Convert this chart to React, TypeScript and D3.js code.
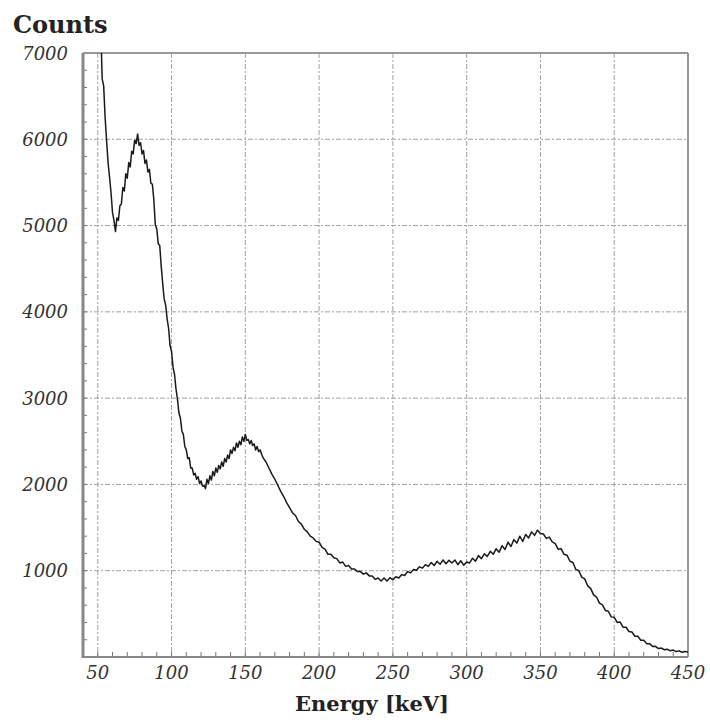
import * as d3 from "d3";

const margin = { top: 53, bottom: 65, left: 83, right: 22 };
const width = 710;
const height = 722;

const xTickLabels = [50, 100, 150, 200, 250, 300, 350, 400, 450];
const yTickLabels = [1000, 2000, 3000, 4000, 5000, 6000, 7000];

// spectrum (keV, counts)
const peakEnergy = [
  51, 52, 53, 54, 55, 56, 57, 58, 59, 60, 61, 62, 63, 64, 65, 66, 67, 68, 69, 70,
  71, 72, 73, 74, 75, 76, 77, 78, 79, 80, 81, 82, 83, 84, 85, 86, 87, 88, 89, 90,
  91, 92, 93, 94, 95, 96, 97, 98, 99, 100,
];
const peakCounts = [
  7800, 7300, 6700, 6620, 6250, 5980, 5730, 5560, 5380, 5150, 5060, 4930, 5090, 5060, 5230, 5250, 5440, 5400, 5600, 5550,
  5730, 5680, 5860, 5830, 5990, 5950, 6060, 5930, 5960, 5830, 5870, 5720, 5760, 5620, 5650, 5490, 5480, 5300, 5010, 4960,
  4790, 4770, 4530, 4330, 4150, 4080, 3920, 3810, 3610, 3540,
];

const midEnergy = [
  101, 102, 103, 104, 105, 106, 107, 108, 109, 110, 111, 112, 113, 114, 115, 116, 117, 118, 119, 120,
  121, 122, 123, 124, 125, 126, 127, 128, 129, 130, 131, 132, 133, 134, 135, 136, 137, 138, 139, 140,
  141, 142, 143, 144, 145, 146, 147, 148, 149, 150, 151, 152, 153, 154, 155, 156, 157, 158, 159, 160,
  162, 164, 166, 168, 170, 172, 174, 176, 178, 180, 182, 184, 186, 188, 190, 192, 194, 196, 198, 200,
  202, 204, 206, 208, 210, 212, 214, 216, 218, 220, 222, 224, 226, 228, 230, 232, 234, 236, 238, 240,
  242, 244, 246, 248, 250,
];
const midCounts = [
  3360, 3280, 3110, 2990, 2830, 2770, 2620, 2580, 2440, 2400, 2300, 2310, 2190, 2190, 2110, 2130, 2060, 2090, 2010, 2040,
  1980, 1990, 1950, 2060, 2010, 2100, 2050, 2150, 2100, 2190, 2140, 2220, 2180, 2260, 2210, 2300, 2260, 2340, 2300, 2400,
  2360, 2430, 2390, 2480, 2430, 2500, 2460, 2550, 2500, 2580, 2510, 2520, 2470, 2510, 2450, 2470, 2400, 2440, 2380, 2400,
  2310, 2260, 2190, 2120, 2060, 1990, 1920, 1860, 1790, 1730, 1670, 1640, 1570, 1540, 1480, 1450, 1400, 1380, 1340, 1330,
  1270, 1250, 1190, 1190, 1150, 1140, 1090, 1100, 1050, 1060, 1020, 1020, 990, 990, 960, 975, 940, 940, 900, 915,
  880, 915, 880, 920, 895,
];

const highEnergy = [
  252, 254, 256, 258, 260, 262, 264, 266, 268, 270, 272, 274, 276, 278, 280, 282, 284, 286, 288, 290,
  292, 294, 296, 298, 300, 302, 304, 306, 308, 310, 312, 314, 316, 318, 320, 322, 324, 326, 328, 330,
  332, 334, 336, 338, 340, 342, 344, 346, 348, 350, 352, 354, 356, 358, 360, 362, 364, 366, 368, 370,
  372, 374, 376, 378, 380, 382, 384, 386, 388, 390, 392, 394, 396, 398, 400, 402, 404, 406, 408, 410,
  412, 414, 416, 418, 420, 422, 424, 426, 428, 430, 432, 434, 436, 438, 440, 442, 444, 446, 448, 450,
];
const highCounts = [
  930, 915, 955, 945, 990, 975, 1015, 1005, 1045, 1030, 1070, 1050, 1095, 1060, 1110, 1075, 1125, 1080, 1120, 1090,
  1125, 1070, 1115, 1065, 1100, 1090, 1145, 1110, 1175, 1140, 1195, 1165, 1225, 1190, 1255, 1215, 1290, 1245, 1330, 1280,
  1360, 1320, 1400, 1340, 1420, 1380, 1450, 1410, 1470, 1430, 1425, 1375, 1390, 1335, 1315, 1250, 1255, 1190, 1180, 1110,
  1095, 1015, 1000, 925, 905, 825, 795, 720, 695, 625, 605, 540, 530, 465, 460, 400, 405, 345, 345, 295,
  290, 240, 240, 195, 195, 155, 155, 122, 124, 98, 103, 84, 91, 72, 80, 63, 71, 55, 64, 57,
];

const energy = [...peakEnergy, ...midEnergy, ...highEnergy];
const counts = [...peakCounts, ...midCounts, ...highCounts];

const App = () => {
  const bottom = height - margin.bottom;
  const right = width - margin.right;

  const xScale = d3.scaleLinear().domain([40, 450]).range([margin.left, right]);
  const yScale = d3.scaleLinear().domain([0, 7000]).range([bottom, margin.top]);

  const line = d3
    .line<number>()
    .x((_, i) => xScale(energy[i]))
    .y((d) => yScale(d));

  const xMinor = d3.range(50, 450, 10);
  const yMinor = d3.range(200, 7000, 200);

  const labelFont = "'DejaVu Serif', serif";

  return (
    <svg
      width={width}
      height={height}
      viewBox={`0 0 ${width} ${height}`}
      style={{ position: "absolute", left: 0, top: 0, background: "#fff" }}
    >
      <defs>
        <clipPath id="plot-clip">
          <rect x={margin.left} y={margin.top} width={right - margin.left} height={bottom - margin.top} />
        </clipPath>
      </defs>

      {/* grid */}
      <g className="grid" stroke="#a0a0a0" strokeWidth={1} strokeDasharray="5,2,2,2">
        {xTickLabels.slice(0, -1).map((v) => (
          <line key={`gx-${v}`} x1={xScale(v)} x2={xScale(v)} y1={margin.top} y2={bottom} />
        ))}
        {yTickLabels.slice(0, -1).map((v) => (
          <line key={`gy-${v}`} x1={margin.left} x2={right} y1={yScale(v)} y2={yScale(v)} />
        ))}
      </g>

      {/* minor ticks */}
      <g className="ticks" stroke="#777" strokeWidth={1}>
        {xMinor.map((v) => (
          <line key={`tx-${v}`} x1={xScale(v)} x2={xScale(v)} y1={bottom} y2={bottom - 5} />
        ))}
        {yMinor.map((v) => (
          <line key={`ty-${v}`} x1={margin.left} x2={margin.left + 4} y1={yScale(v)} y2={yScale(v)} />
        ))}
      </g>

      {/* frame */}
      <g className="frame" fill="none">
        <line x1={margin.left} x2={right} y1={margin.top} y2={margin.top} stroke="#999" strokeWidth={2} />
        <line x1={right} x2={right} y1={margin.top} y2={bottom} stroke="#999" strokeWidth={2} />
        <line x1={margin.left} x2={right} y1={bottom} y2={bottom} stroke="#888" strokeWidth={2} />
        <line x1={margin.left} x2={margin.left} y1={margin.top} y2={bottom + 1} stroke="#888" strokeWidth={3} />
      </g>

      {/* spectrum */}
      <path
        d={line(counts) ?? ""}
        fill="none"
        stroke="#1a1a1a"
        strokeWidth={1.5}
        strokeLinejoin="round"
        clipPath="url(#plot-clip)"
      />

      {/* tick labels */}
      <g className="x-labels" fontFamily={labelFont} fontStyle="italic" fontSize={18} fill="#333" textAnchor="middle">
        {xTickLabels.map((v) => (
          <text key={`lx-${v}`} x={xScale(v)} y={bottom + 22}>
            {v}
          </text>
        ))}
      </g>
      <g className="y-labels" fontFamily={labelFont} fontStyle="italic" fontSize={18} fill="#333" textAnchor="end">
        {yTickLabels.map((v) => (
          <text key={`ly-${v}`} x={68} y={yScale(v) + 6.5}>
            {v}
          </text>
        ))}
      </g>

      {/* titles */}
      <text x={13} y={33} fontFamily={labelFont} fontWeight="bold" fontSize={24} fill="#222">
        Counts
      </text>
      <text x={372} y={711} fontFamily={labelFont} fontWeight="bold" fontSize={21} fill="#222" textAnchor="middle">
        Energy [keV]
      </text>
    </svg>
  );
};

export default App;
